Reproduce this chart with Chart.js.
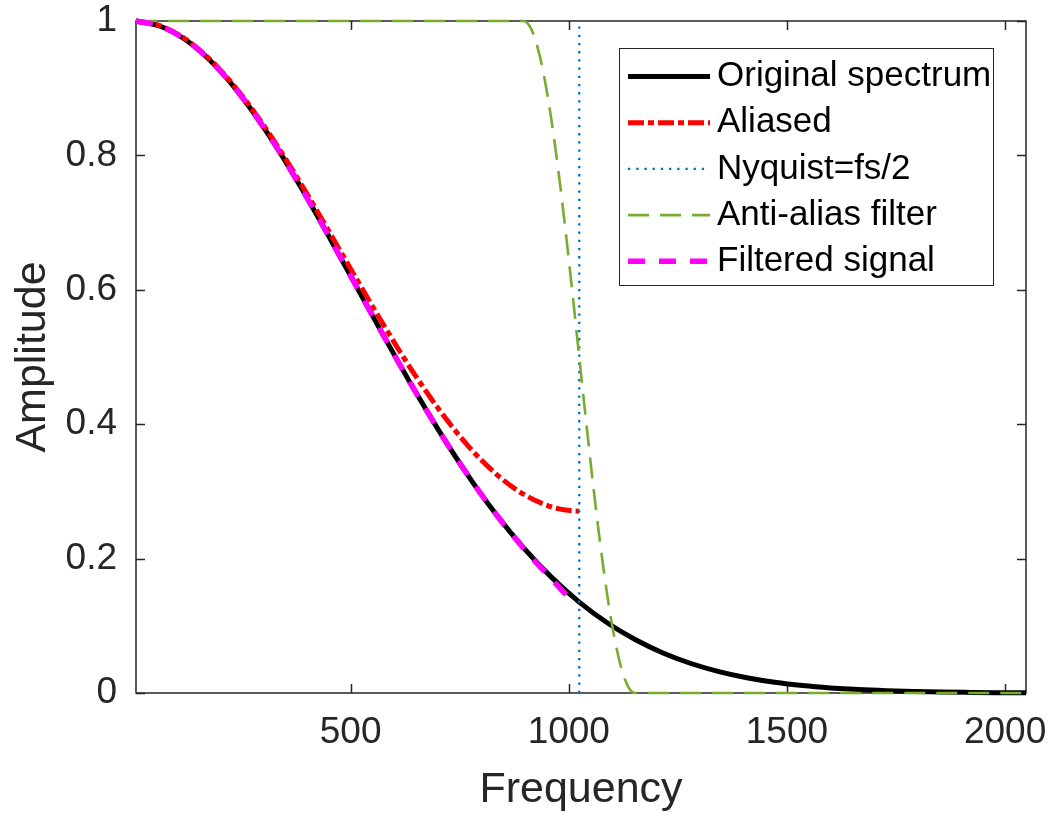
<!DOCTYPE html>
<html lang="en">
<head>
  <meta charset="UTF-8">
  <title>Spectrum aliasing</title>
  <script src="https://cdn.jsdelivr.net/npm/chart.js"></script>
  <style>
    body {
      margin: 0;
      background: #ffffff;
    }
    #wrap {
      width: 1051px;
      height: 813px;
    }
  </style>
</head>
<body>
  <div id="wrap"><canvas id="specChart" width="1051" height="813"></canvas></div>

  <script>
    // values
    const seriesNames = ['Original spectrum', 'Aliased', 'Nyquist=fs/2', 'Anti-alias filter', 'Filtered signal'];

    const freq = [8, 64, 128, 192, 256, 320, 384, 448, 512, 576, 640, 704, 768, 832, 896, 960, 1024,
      1088, 1152, 1216, 1280, 1344, 1408, 1472, 1536, 1600, 1664, 1728, 1792, 1856, 1920, 1984, 2048];
    const original = [1.0000, 0.9922, 0.9692, 0.9321, 0.8825, 0.8226, 0.7548, 0.6819, 0.6065, 0.5311, 0.4578,
      0.3886, 0.3247, 0.2671, 0.2163, 0.1724, 0.1353, 0.1046, 0.0796, 0.0596, 0.0439, 0.0319, 0.0228,
      0.0160, 0.0111, 0.0076, 0.0051, 0.0034, 0.0022, 0.0014, 0.0009, 0.0005, 0.0003];

    const aliasFreq = [8, 64, 128, 192, 256, 320, 384, 448, 512, 576, 640, 704, 768, 832, 896, 960, 992, 1024];
    const aliased = [1.0000, 0.9927, 0.9701, 0.9335, 0.8847, 0.8260, 0.7599, 0.6895, 0.6176, 0.5471, 0.4806,
      0.4205, 0.3686, 0.3267, 0.2959, 0.2770, 0.2722, 0.2706];

    const nyquistFreq = [1024, 1024];
    const nyquistLevel = [0, 1];

    const filterFreq = [8, 896, 912, 928, 944, 960, 976, 992, 1008, 1024, 1040, 1056, 1072, 1088, 1104, 1120, 1136, 1152, 2048];
    const filterGain = [1, 1, 0.9904, 0.9619, 0.9157, 0.8536, 0.7778, 0.6913, 0.5975, 0.5, 0.4025, 0.3087,
      0.2222, 0.1464, 0.0843, 0.0381, 0.0096, 0, 0];

    const filteredFreq = [8, 64, 128, 192, 256, 320, 384, 448, 512, 576, 640, 704, 768, 832, 896, 960, 1000];
    const filtered = [1.0000, 0.9922, 0.9692, 0.9321, 0.8825, 0.8226, 0.7548, 0.6819, 0.6065, 0.5311, 0.4578,
      0.3886, 0.3247, 0.2671, 0.2155, 0.1700, 0.1420];

    const xTicks = [500, 1000, 1500, 2000];
    const yTicks = [0, 0.2, 0.4, 0.6, 0.8, 1];

    const FONT = "'Liberation Sans', Arial, Helvetica, sans-serif";
    const AXIS_COLOR = '#262626';

    const pts = (xs, ys) => xs.map((x, i) => ({ x: x, y: ys[i] }));

    // MATLAB-style box with inward ticks, drawn under the data
    const boxAxes = {
      id: 'boxAxes',
      beforeDatasetsDraw(chart) {
        const { ctx, chartArea: a, scales: { x, y } } = chart;
        const tl = 9;
        ctx.save();
        ctx.strokeStyle = AXIS_COLOR;
        ctx.lineWidth = 1.5;
        ctx.strokeRect(a.left, a.top, a.right - a.left, a.bottom - a.top);
        ctx.beginPath();
        xTicks.forEach(v => {
          const px = Math.round(x.getPixelForValue(v)) + 0.5;
          ctx.moveTo(px, a.bottom); ctx.lineTo(px, a.bottom - tl);
          ctx.moveTo(px, a.top); ctx.lineTo(px, a.top + tl);
        });
        yTicks.forEach(v => {
          const py = Math.round(y.getPixelForValue(v)) + 0.5;
          ctx.moveTo(a.left, py); ctx.lineTo(a.left + tl, py);
          ctx.moveTo(a.right, py); ctx.lineTo(a.right - tl, py);
        });
        ctx.stroke();
        ctx.restore();
      }
    };

    // legend box in the upper right of the axes
    const boxLegend = {
      id: 'boxLegend',
      afterDraw(chart) {
        const { ctx, chartArea: a } = chart;
        const bx = a.right - 407, by = a.top + 27, bw = 374, bh = 237;
        ctx.save();
        ctx.fillStyle = '#ffffff';
        ctx.fillRect(bx, by, bw, bh);
        ctx.strokeStyle = AXIS_COLOR;
        ctx.lineWidth = 1;
        ctx.strokeRect(bx + 0.5, by + 0.5, bw, bh);
        ctx.font = '35px ' + FONT;
        ctx.textBaseline = 'middle';
        ctx.textAlign = 'left';
        chart.data.datasets.forEach((ds, i) => {
          const ly = by + 28.5 + i * 46.2;
          ctx.beginPath();
          ctx.setLineDash(ds.borderDash || []);
          ctx.strokeStyle = ds.borderColor;
          ctx.lineWidth = ds.borderWidth;
          ctx.moveTo(bx + 9, ly);
          ctx.lineTo(bx + 91, ly);
          ctx.stroke();
          ctx.setLineDash([]);
          ctx.fillStyle = '#000000';
          ctx.fillText(ds.label, bx + 98, ly);
        });
        ctx.restore();
      }
    };

    const lineDefaults = {
      showLine: true,
      pointRadius: 0,
      pointHoverRadius: 0,
      fill: false,
      clip: false,
      cubicInterpolationMode: 'monotone',
      borderCapStyle: 'butt'
    };

    new Chart(document.getElementById('specChart'), {
      type: 'scatter',
      data: {
        datasets: [
          Object.assign({}, lineDefaults, {
            label: seriesNames[0],
            data: pts(freq, original),
            borderColor: '#000000',
            borderWidth: 5,
            order: 5
          }),
          Object.assign({}, lineDefaults, {
            label: seriesNames[1],
            data: pts(aliasFreq, aliased),
            borderColor: '#ff0000',
            borderWidth: 5,
            borderDash: [16, 4, 6, 4],
            order: 4
          }),
          Object.assign({}, lineDefaults, {
            label: seriesNames[2],
            data: pts(nyquistFreq, nyquistLevel),
            borderColor: '#0072bd',
            borderWidth: 2.3,
            borderDash: [2.3, 5.9],
            cubicInterpolationMode: 'default',
            order: 3
          }),
          Object.assign({}, lineDefaults, {
            label: seriesNames[3],
            data: pts(filterFreq, filterGain),
            borderColor: '#77ac30',
            borderWidth: 2.6,
            borderDash: [21, 11],
            order: 2
          }),
          Object.assign({}, lineDefaults, {
            label: seriesNames[4],
            data: pts(filteredFreq, filtered),
            borderColor: '#ff00ff',
            borderWidth: 5.5,
            borderDash: [17, 14],
            order: 1
          })
        ]
      },
      options: {
        responsive: false,
        animation: false,
        events: [],
        layout: { padding: { left: 0, right: 25, top: 21, bottom: 0 } },
        plugins: {
          legend: { display: false },
          tooltip: { enabled: false }
        },
        scales: {
          x: {
            type: 'linear',
            min: 8,
            max: 2048,
            afterBuildTicks: s => { s.ticks = xTicks.map(v => ({ value: v })); },
            afterFit: s => {
              s.height = 120;
              s.paddingLeft = 0;
              s.paddingRight = 0;
            },
            grid: { display: false, drawTicks: false },
            border: { display: false },
            ticks: {
              padding: 18,
              color: AXIS_COLOR,
              font: { family: FONT, size: 37 },
              maxRotation: 0,
              autoSkip: false,
              callback: v => String(v)
            },
            title: {
              display: true,
              text: 'Frequency',
              color: AXIS_COLOR,
              font: { family: FONT, size: 43, lineHeight: 1 },
              padding: { top: 0, bottom: 1.5 }
            }
          },
          y: {
            type: 'linear',
            min: 0,
            max: 1,
            afterBuildTicks: s => { s.ticks = yTicks.map(v => ({ value: v })); },
            afterFit: s => {
              s.width = 136;
              s.paddingTop = 0;
              s.paddingBottom = 0;
            },
            grid: { display: false, drawTicks: false },
            border: { display: false },
            ticks: {
              padding: 19,
              color: AXIS_COLOR,
              font: { family: FONT, size: 37 },
              autoSkip: false,
              callback: v => String(v)
            },
            title: {
              display: true,
              text: 'Amplitude',
              color: AXIS_COLOR,
              font: { family: FONT, size: 43 },
              padding: { top: 7, bottom: 0 }
            }
          }
        }
      },
      plugins: [boxAxes, boxLegend]
    });
  </script>
</body>
</html>
